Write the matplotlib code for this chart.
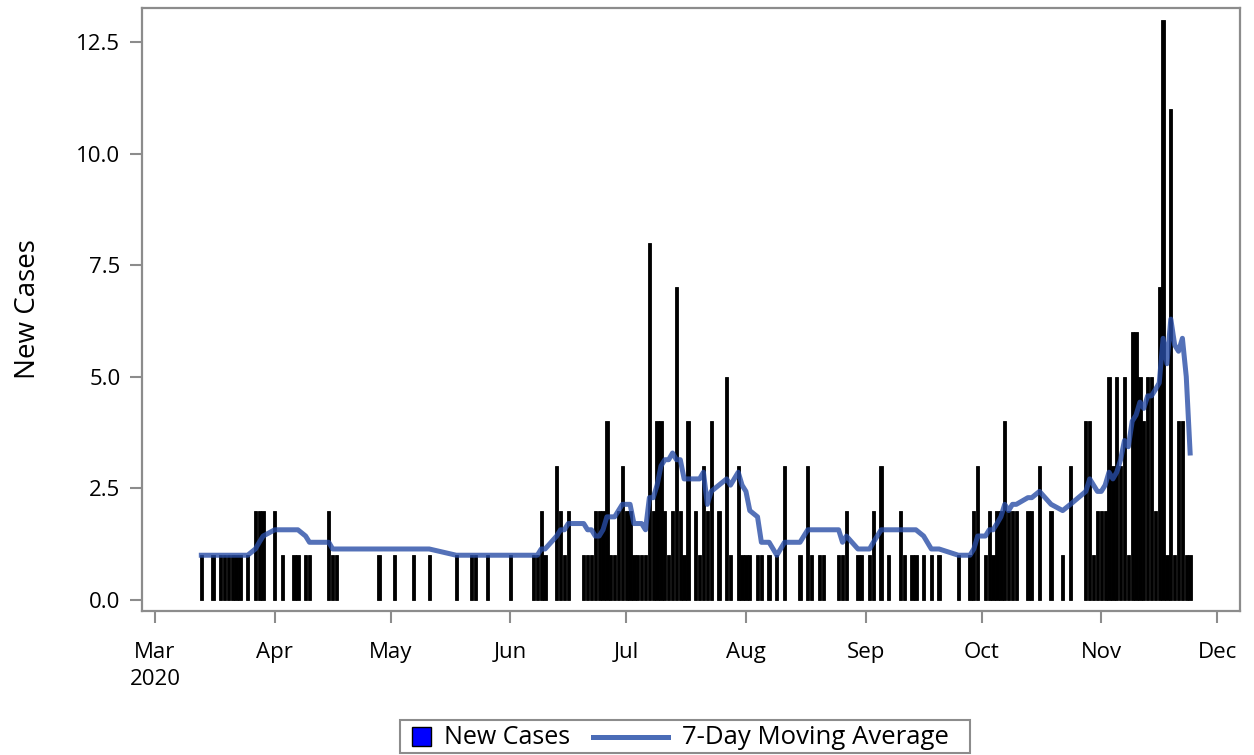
import numpy as np
import pandas as pd
import matplotlib
matplotlib.use('Agg')
import matplotlib.pyplot as plt
from matplotlib.patches import Rectangle
from matplotlib.lines import Line2D

# daily new cases (only days with cases are listed)
dates = ['03-13', '03-16', '03-18', '03-19', '03-20', '03-21', '03-22', '03-23', '03-25', '03-27',
         '03-28', '03-29', '04-01', '04-03', '04-06', '04-07', '04-09', '04-10', '04-15', '04-16',
         '04-17', '04-28', '05-02', '05-07', '05-11', '05-18', '05-22', '05-23', '05-26', '06-01',
         '06-07', '06-08', '06-09', '06-10', '06-13', '06-14', '06-15', '06-16', '06-20', '06-21',
         '06-22', '06-23', '06-24', '06-25', '06-26', '06-27', '06-28', '06-29', '06-30', '07-01',
         '07-02', '07-03', '07-04', '07-05', '07-06', '07-07', '07-08', '07-09', '07-10', '07-11',
         '07-12', '07-13', '07-14', '07-15', '07-16', '07-17', '07-19', '07-20', '07-21', '07-22',
         '07-23', '07-25', '07-27', '07-28', '07-30', '07-31', '08-01', '08-02', '08-04', '08-05',
         '08-07', '08-09', '08-11', '08-15', '08-17', '08-18', '08-20', '08-21', '08-25', '08-26',
         '08-27', '08-30', '08-31', '09-02', '09-03', '09-05', '09-07', '09-10', '09-11', '09-13',
         '09-14', '09-16', '09-18', '09-20', '09-25', '09-28', '09-29', '09-30', '10-02', '10-03',
         '10-04', '10-05', '10-06', '10-07', '10-08', '10-09', '10-10', '10-13', '10-14', '10-16',
         '10-19', '10-22', '10-24', '10-28', '10-29', '10-30', '10-31', '11-01', '11-02', '11-03',
         '11-04', '11-05', '11-06', '11-07', '11-08', '11-09', '11-10', '11-11', '11-12', '11-13',
         '11-14', '11-15', '11-16', '11-17', '11-18', '11-19', '11-20', '11-21', '11-22', '11-23',
         '11-24']

cases = [1, 1, 1, 1, 1, 1, 1, 1, 1, 2,
         2, 2, 2, 1, 1, 1, 1, 1, 2, 1,
         1, 1, 1, 1, 1, 1, 1, 1, 1, 1,
         1, 1, 2, 1, 3, 2, 1, 2, 1, 1,
         1, 2, 2, 2, 4, 1, 1, 2, 3, 2,
         2, 1, 1, 1, 1, 8, 2, 4, 4, 2,
         1, 2, 7, 2, 1, 4, 2, 1, 3, 2,
         4, 2, 5, 1, 3, 1, 1, 1, 1, 1,
         1, 1, 3, 1, 3, 1, 1, 1, 1, 1,
         2, 1, 1, 1, 2, 3, 1, 2, 1, 1,
         1, 1, 1, 1, 1, 1, 2, 3, 1, 2,
         1, 2, 2, 4, 2, 2, 2, 2, 2, 3,
         2, 1, 3, 4, 4, 1, 2, 2, 2, 5,
         3, 5, 3, 5, 1, 6, 6, 5, 4, 5,
         5, 2, 7, 13, 1, 11, 1, 4, 4, 1,
         1]

# 7-day moving average as drawn
avg7 = [1.00, 1.00, 1.00, 1.00, 1.00, 1.00, 1.00, 1.00, 1.00, 1.14,
        1.29, 1.43, 1.57, 1.57, 1.57, 1.57, 1.43, 1.29, 1.29, 1.14,
        1.14, 1.14, 1.14, 1.14, 1.14, 1.00, 1.00, 1.00, 1.00, 1.00,
        1.00, 1.00, 1.14, 1.14, 1.43, 1.57, 1.57, 1.71, 1.71, 1.57,
        1.57, 1.43, 1.43, 1.57, 1.86, 1.86, 1.86, 2.00, 2.14, 2.14,
        2.14, 1.71, 1.71, 1.71, 1.57, 2.29, 2.29, 2.57, 3.00, 3.14,
        3.14, 3.29, 3.14, 3.14, 2.71, 2.71, 2.71, 2.71, 2.86, 2.14,
        2.43, 2.57, 2.71, 2.57, 2.86, 2.57, 2.43, 2.00, 1.86, 1.29,
        1.29, 1.00, 1.29, 1.29, 1.57, 1.57, 1.57, 1.57, 1.57, 1.29,
        1.43, 1.14, 1.14, 1.14, 1.29, 1.57, 1.57, 1.57, 1.57, 1.57,
        1.57, 1.43, 1.14, 1.14, 1.00, 1.00, 1.14, 1.43, 1.43, 1.57,
        1.57, 1.71, 1.86, 2.14, 2.00, 2.14, 2.14, 2.29, 2.29, 2.43,
        2.14, 2.00, 2.14, 2.43, 2.71, 2.57, 2.43, 2.43, 2.57, 2.86,
        2.71, 2.86, 3.14, 3.57, 3.43, 4.00, 4.14, 4.43, 4.29, 4.57,
        4.57, 4.71, 4.86, 5.86, 5.29, 6.29, 5.71, 5.57, 5.86, 5.00,
        3.29]

months = ['2020-03-01', '2020-04-01', '2020-05-01', '2020-06-01', '2020-07-01',
          '2020-08-01', '2020-09-01', '2020-10-01', '2020-11-01', '2020-12-01']
month_labels = ['Mar\n2020', 'Apr', 'May', 'Jun', 'Jul', 'Aug', 'Sep', 'Oct', 'Nov', 'Dec']
yticks = [0.0, 2.5, 5.0, 7.5, 10.0, 12.5]
legend_labels = ['New Cases', '7-Day Moving Average']

x = pd.to_datetime(['2020-' + d for d in dates])
month_x = pd.to_datetime(months)

plt.rcParams['font.family'] = ['Open Sans', 'DejaVu Sans']
gray = '#8c8c8c'
line_col = (0.16, 0.30, 0.65)
W, H = 1254, 755


def fx(px):
    return px / W


def fy(py):
    return 1 - py / H


fig = plt.figure(figsize=(12.54, 7.55), dpi=100)
ax = fig.add_axes([0.1132, 0.1907, 0.8756, 0.7987])

ax.bar(x, cases, width=0.85, color='black', edgecolor='black', linewidth=0.6, zorder=2)
ax.plot(x, avg7, color=line_col, alpha=0.8, linewidth=3.6, solid_joinstyle='round', zorder=3)

start = pd.Timestamp('2020-03-01')
ax.set_xlim(start - pd.Timedelta(days=3.37), start + pd.Timedelta(days=280.9))
ax.set_ylim(-0.25, 13.26)

ax.set_xticks(month_x)
ax.set_xticklabels(month_labels, linespacing=1.35)
ax.set_yticks(yticks)
ax.set_yticklabels(['%.1f' % t for t in yticks])
ax.tick_params(axis='both', direction='out', length=8.5, width=1.5, color=gray,
               labelsize=16, labelcolor='black')
ax.tick_params(axis='x', pad=14)
ax.tick_params(axis='y', pad=7)
for s in ax.spines.values():
    s.set_color(gray)
    s.set_linewidth(1.6)

ax.set_ylabel('New Cases', fontsize=20, labelpad=25)

# legend box drawn by hand (square patch + long line)
fig.add_artist(Rectangle((fx(400), fy(753)), fx(970) - fx(400), fy(720) - fy(753),
                         transform=fig.transFigure, facecolor='white', edgecolor=gray,
                         linewidth=1.5))
fig.add_artist(Rectangle((fx(412), fy(746)), fx(431) - fx(412), fy(727) - fy(746),
                         transform=fig.transFigure, facecolor='#0000ff', edgecolor='black',
                         linewidth=1.0))
fig.add_artist(Line2D([fx(593), fx(668)], [fy(737), fy(737)], transform=fig.transFigure,
                      color='#4a6cb7', linewidth=3.6))
fig.text(fx(444), fy(737), legend_labels[0], fontsize=18, va='center', ha='left')
fig.text(fx(682), fy(737), legend_labels[1], fontsize=18.5, va='center', ha='left')

fig.savefig('out.png', dpi=100)
